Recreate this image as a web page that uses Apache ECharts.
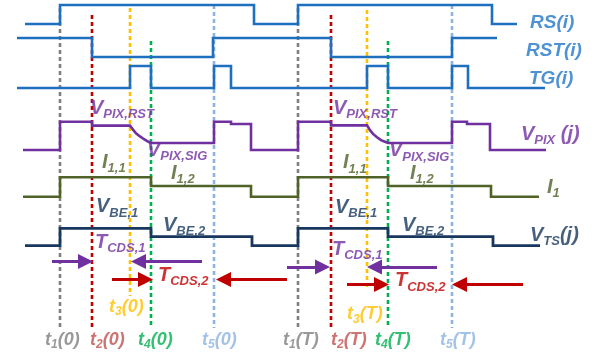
<!DOCTYPE html>
<html><head><meta charset="utf-8">
<script src="https://cdn.jsdelivr.net/npm/echarts@6/dist/echarts.min.js"></script>
<style>html,body{margin:0;padding:0;background:#fff}#c{width:605px;height:356px}</style>
</head><body><div id="c"></div>
<script>
// ---- time instants of the two readout frames (horizontal time units) ----
const t1 = [60, 298];
const t2 = [92, 331];
const t3 = [130, 367];
const t4 = [151, 388];
const t5 = [214, 452];

// ---- step waveforms: edge times, and level held after each edge ----
const rsTimes   = [25, 60, 254, 298, 492, 517];
const rsLevels  = [0, 1, 0, 1, 0];
const rstTimes  = [17, 92, 213, 331, 452, 497];
const rstLevels = [1, 0, 1, 0, 1];
const tgTimes   = [17, 130, 151, 214, 231, 367, 388, 452, 468, 545];
const tgLevels  = [0, 1, 0, 1, 0, 1, 0, 1, 0];
const i1Times   = [23, 60, 151, 251, 298, 388, 491, 539];
const i1Levels  = [0, 1, 0.55, 0, 1, 0.55, 0];
const vtsTimes  = [25, 60, 151, 252, 298, 388, 493, 540];
const vtsLevels = [0, 1, 0.52, 0, 1, 0.52, 0];
// VPIX as [time, level] points, including the settling curve
const vpixPoints = [
  [23,0],[60,0],[60,1],[92,1],[92,0.86],[130,0.86],[133,0.72],[136,0.59],[140,0.48],[144,0.38],[148,0.30],[151,0.25],
  [214,0.25],[214,1],[231,1],[231,0.92],[251,0.92],[251,0],[298,0],[298,1],[331,1],[331,0.87],[367,0.87],
  [370,0.70],[373,0.57],[377,0.45],[381,0.35],[385,0.29],[388,0.25],[452,0.25],[452,1],[467,1],[467,0.92],
  [490,0.92],[490,0],[546,0]
];
// ---- CDS interval arrows: [tail time, tip time] ----
const cds1Arrows = [[[52, 93], [202, 131]], [[287, 330], [437, 367]]];
const cds2Arrows = [[[112, 153], [287, 216]], [[347, 389], [523, 452]]];

// ---- layout / style (not data) ----
const LANE = {
  rs:   {base: 24,    amp: 19},
  rst:  {base: 57,    amp: 19},
  tg:   {base: 88,    amp: 22},
  vpix: {base: 150,   amp: 28.3},
  i1:   {base: 196.7, amp: 19.4},
  vts:  {base: 245.7, amp: 17.4}
};
const C = {blue:'#1f6fbf', blueTxt:'#2277c9', purple:'#7030a0', olive:'#4f6228', navy:'#17375e',
           gray:'#7f7f7f', red:'#c00000', yellow:'#ffc000', green:'#00b050', lblue:'#8db3e2', brick:'#c0504d'};
const ARROW_Y = {cds1: [261.5, 267], cds2: [279.5, 284.5]};
const MARK = [
  {times: t1, color: C.gray,   top: [8, 8],   bottom: [328, 328]},
  {times: t2, color: C.red,    top: [15, 15], bottom: [328, 328]},
  {times: t3, color: C.yellow, top: [8, 10],  bottom: [296, 289]},
  {times: t4, color: C.green,  top: [41, 41], bottom: [328, 328]},
  {times: t5, color: C.lblue,  top: [5, 5],   bottom: [328, 328]}
];

function stepPts(times, levels, lane) {
  const out = [];
  for (let i = 0; i < levels.length; i++) {
    const y = lane.base - levels[i] * lane.amp;
    out.push([times[i], y], [times[i + 1], y]);
  }
  return out;
}
function mapPts(pts, lane) { return pts.map(p => [p[0], lane.base - p[1] * lane.amp]); }

const FONT = '"Liberation Sans", Arial, sans-serif';
function tok(size, extra) {
  return Object.assign({fontSize: size, fontWeight: 'bold', fontStyle: 'italic', fontFamily: FONT,
                        verticalAlign: 'bottom', lineHeight: size + 2}, extra || {});
}
const rich = {
  m: tok(20, {padding: [0, 0, 3, 0]}),
  s: tok(13),
  r: tok(19),
  b: tok(18, {padding: [0, 0, 2, 0]}),
  c: tok(12)
};

const texts = [
  // right-hand signal names
  [530, 21.5, '{r|RS(i)}', C.blueTxt],
  [526, 50,   '{r|RST(i)}', C.blueTxt],
  [529, 78,   '{r|TG(i)}', C.blueTxt],
  [521, 136,  '{m|V}{s|PIX}{m| (j)}', C.purple],
  [547, 189,  '{m|I}{s|1}', C.olive],
  [530, 237,  '{m|V}{s|TS}{m|(j)}', C.navy],
  // frame 0
  [90, 110,   '{m|V}{s|PIX,RST}', C.purple],
  [147, 152,  '{m|V}{s|PIX,SIG}', C.purple],
  [102, 164,  '{m|I}{s|1,1}', C.olive],
  [171, 175,  '{m|I}{s|1,2}', C.olive],
  [96, 208.5, '{m|V}{s|BE,1}', C.navy],
  [163, 227,  '{m|V}{s|BE,2}', C.navy],
  [95, 244,   '{m|T}{s|CDS,1}', C.purple],
  [158, 277,  '{m|T}{s|CDS,2}', C.red],
  [109, 308,  '{b|t}{c|3}{b|(0)}', C.yellow],
  [45, 341,   '{b|t}{c|1}{b|(0)}', C.gray],
  [90, 341,   '{b|t}{c|2}{b|(0)}', C.brick],
  [138, 341,  '{b|t}{c|4}{b|(0)}', C.green],
  [202, 341,  '{b|t}{c|5}{b|(0)}', C.lblue],
  // frame T
  [333, 110,  '{m|V}{s|PIX,RST}', C.purple],
  [389, 152.5,'{m|V}{s|PIX,SIG}', C.purple],
  [343, 164.5,'{m|I}{s|1,1}', C.olive],
  [410, 175,  '{m|I}{s|1,2}', C.olive],
  [335, 209,  '{m|V}{s|BE,1}', C.navy],
  [402, 227,  '{m|V}{s|BE,2}', C.navy],
  [332, 251,  '{m|T}{s|CDS,1}', C.purple],
  [395, 282.5,'{m|T}{s|CDS,2}', C.red],
  [347, 315.5,'{b|t}{c|3}{b|(T)}', C.yellow],
  [283, 341,  '{b|t}{c|1}{b|(T)}', C.gray],
  [331, 341,  '{b|t}{c|2}{b|(T)}', C.brick],
  [375, 341,  '{b|t}{c|4}{b|(T)}', C.green],
  [440, 341,  '{b|t}{c|5}{b|(T)}', C.lblue]
];

const series = [];
// vertical dashed time markers
MARK.forEach(m => {
  m.times.forEach((t, k) => {
    series.push({type: 'line', data: [[t, m.top[k]], [t, m.bottom[k]]], showSymbol: false, silent: true,
      lineStyle: {color: m.color, width: 2.6, type: [4, 3]}, z: 1});
  });
});
function sig(pts, color, w) {
  series.push({type: 'line', data: pts, showSymbol: false, silent: true,
    lineStyle: {color: color, width: w, join: 'miter', cap: 'butt'}, z: 2});
}
sig(stepPts(rsTimes, rsLevels, LANE.rs), C.blue, 2.6);
sig(stepPts(rstTimes, rstLevels, LANE.rst), C.blue, 2.6);
sig(stepPts(tgTimes, tgLevels, LANE.tg), C.blue, 2.6);
sig(mapPts(vpixPoints, LANE.vpix), C.purple, 2.6);
sig(stepPts(i1Times, i1Levels, LANE.i1), C.olive, 2.6);
sig(stepPts(vtsTimes, vtsLevels, LANE.vts), C.navy, 2.8);

// arrows
const HEAD_L = 15, HEAD_W = 11;
function arrowData(list, ys) {
  const d = [];
  list.forEach((pair, k) => pair.forEach(a => {
    const dir = a[1] > a[0] ? 1 : -1;
    d.push({coords: [[a[0], ys[k]], [a[1] - dir * HEAD_L / 2, ys[k]]]});
  }));
  return d;
}
[[cds1Arrows, ARROW_Y.cds1, C.purple], [cds2Arrows, ARROW_Y.cds2, C.red]].forEach(([list, ys, col]) => {
  series.push({type: 'lines', coordinateSystem: 'cartesian2d', silent: true, z: 3,
    symbol: ['none', 'triangle'], symbolSize: [HEAD_W, HEAD_L],
    lineStyle: {color: col, width: 3, opacity: 1, curveness: 0},
    data: arrowData(list, ys)});
});

// text labels
series.push({type: 'scatter', symbolSize: 0, silent: true, z: 5,
  data: texts.map(t => ({value: [t[0], t[1]],
    label: {show: true, position: [0, 0], align: 'left', verticalAlign: 'middle',
      formatter: t[2], color: t[3], rich: rich}}))
});

const chart = echarts.init(document.getElementById('c'));
chart.setOption({
  animation: false,
  backgroundColor: '#ffffff',
  grid: {left: 0, right: 0, top: 0, bottom: 0},
  xAxis: {type: 'value', min: 0, max: 605, show: false},
  yAxis: {type: 'value', min: 0, max: 356, inverse: true, show: false},
  series: series
});
</script></body></html>
